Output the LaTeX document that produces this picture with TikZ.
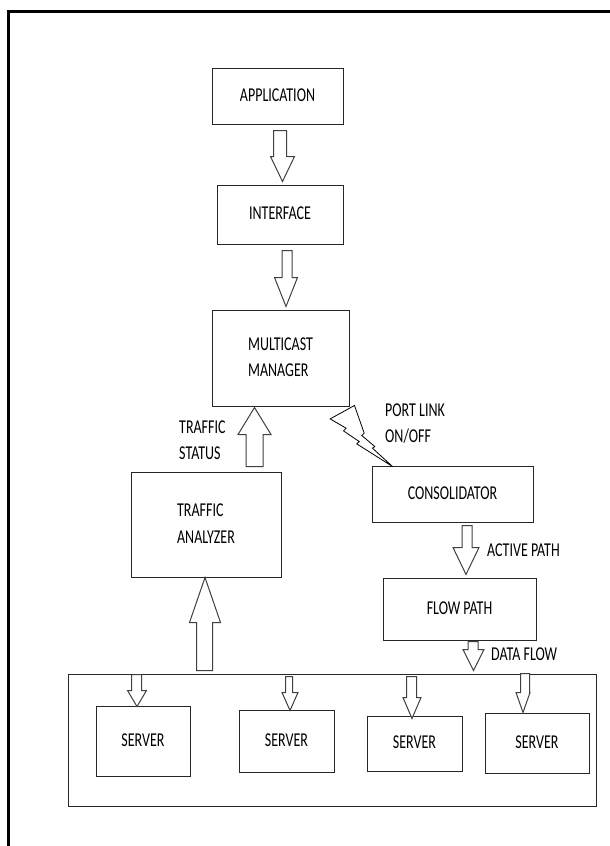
\documentclass[tikz,border=0pt]{standalone}
\usepackage{fontspec}
\setmainfont{Carlito}
\usepackage{graphicx}
\usetikzlibrary{calc}
\newcommand\lbl[1]{\scalebox{1}[1.4]{\begin{tabular}{@{}l@{}}#1\end{tabular}}}
% hollow block arrow: from, to, half shaft, half head, head length
\newcommand\blockarrow[5]{%
  \draw[blkarrow] let \p1=(#1), \p2=(#2), \n1={#5*sign(\y2-\y1)} in
    (\x1-#3,\y1) -- (\x1+#3,\y1) -- (\x1+#3,\y2-\n1) -- (\x2+#4,\y2-\n1)
    -- (\x2,\y2) -- (\x2-#4,\y2-\n1) -- (\x1-#3,\y2-\n1) -- cycle;}

\begin{document}
\begin{tikzpicture}[x=1pt,y=-1pt,
  box/.style={draw=black!85,line width=1pt,inner sep=0pt,font=\fontsize{14}{19}\selectfont},
  tag/.style={inner sep=0pt,anchor=west,font=\fontsize{14}{19}\selectfont},
  blkarrow/.style={draw=black!75,line width=1pt,fill=white,line join=miter},
  bolt/.style={draw=black,line width=0.8pt,line join=miter}]
\useasboundingbox (0,0) rectangle (610,846);
\draw[line width=2.6pt] (610,11.3) -- (8.7,11.3) -- (8.7,846);

% boxes
\node[box,minimum width=131pt,minimum height=56pt] (app) at (277.5,96) {\lbl{APPLICATION}};
\node[box,minimum width=126pt,minimum height=59pt] (intf) at (280,214.5) {\lbl{INTERFACE}};
\node[box,minimum width=137pt,minimum height=96pt] (mcm) at (280.5,358) {\lbl{MULTICAST\\MANAGER}};
\node[box,minimum width=150pt,minimum height=105pt] (ta) at (206,524.5) {\lbl{TRAFFIC\\ANALYZER}};
\node[box,minimum width=161pt,minimum height=56pt] (cons) at (452.5,494) {\lbl{CONSOLIDATOR}};
\node[box,minimum width=153pt,minimum height=62pt] (fp) at (459.5,609) {\lbl{FLOW PATH}};
\node[box,minimum width=528pt,minimum height=132pt] (cont) at (332,740) {};
\node[box,minimum width=94pt,minimum height=70pt] (s1) at (143,741) {\lbl{SERVER}};
\node[box,minimum width=95pt,minimum height=62pt] (s2) at (286.5,741) {\lbl{SERVER}};
\node[box,minimum width=95pt,minimum height=55pt] (s3) at (414.5,743.5) {\lbl{SERVER}};
\node[box,minimum width=104pt,minimum height=60pt] (s4) at (537,743) {\lbl{SERVER}};

% labels
\node[tag] (tstat) at (179,441) {\lbl{TRAFFIC\\STATUS}};
\node[tag] (plink) at (385,424) {\lbl{PORT LINK\\ON/OFF}};
\node[tag] (apath) at (487,551) {\lbl{ACTIVE PATH}};
\node[tag] (dflow) at (491,655) {\lbl{DATA FLOW}};

% arrows
\blockarrow{[xshift=2.5pt,yshift=-6pt]app.south}{[xshift=2.5pt,yshift=3pt]intf.north}{6.5pt}{12pt}{25}
\blockarrow{[xshift=7pt,yshift=-6pt]intf.south}{[xshift=5.5pt,yshift=3pt]mcm.north}{5pt}{11.5pt}{29}
\blockarrow{[xshift=48.5pt,yshift=5pt]ta.north}{[xshift=-26pt,yshift=-1pt]mcm.south}{8.5pt}{16.5pt}{27}
\blockarrow{[xshift=137pt,yshift=3pt]cont.north west}{[xshift=-1pt]ta.south}{8pt}{15.5pt}{45}
\blockarrow{[xshift=14.5pt,yshift=-3pt]cons.south}{[xshift=6.5pt,yshift=3pt]fp.north}{5pt}{13pt}{27}
\blockarrow{[xshift=13.5pt,yshift=-1pt]fp.south}{[xshift=406pt,yshift=3pt]cont.north west}{5pt}{10.5pt}{21}
\blockarrow{[xshift=69pt,yshift=-1pt]cont.north west}{[xshift=-6pt,yshift=-1pt]s1.north}{5pt}{9.5pt}{16}
\blockarrow{[xshift=221.5pt,yshift=-3pt]cont.north west}{[xshift=3.5pt,yshift=-1pt]s2.north}{3.5pt}{8pt}{18}
\blockarrow{[xshift=344pt,yshift=-3pt]cont.north west}{[xshift=-2.5pt,yshift=-3pt]s3.north}{5pt}{9pt}{21}
\blockarrow{[xshift=457.5pt]cont.north west}{[xshift=-14pt]s4.north}{4.5pt}{7pt}{20}

% port link bolt
\draw[bolt] ([xshift=5pt,yshift=1pt]mcm.south east) -- +(-24.4,13.4) -- +(-8.4,22.7)
  -- +(-11,25.4) -- +(4.7,36) -- +(2.3,38.4) -- +(38,61) -- +(18,42.7)
  -- +(20.3,41) -- +(7.3,30) -- +(9.7,27.7) -- cycle;
\end{tikzpicture}
\end{document}
